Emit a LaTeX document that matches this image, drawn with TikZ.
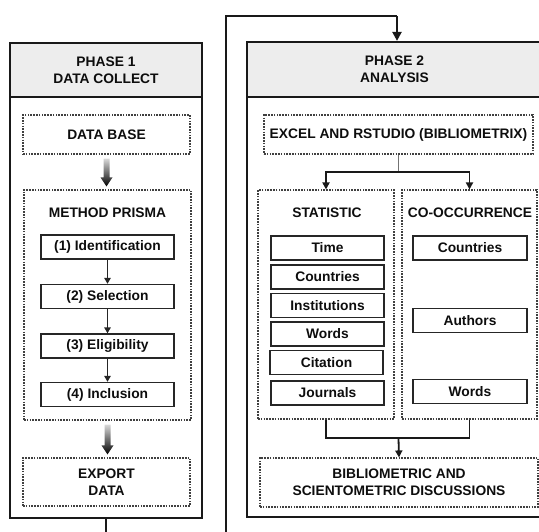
\documentclass[tikz,border=0pt]{standalone}
\usepackage{fontspec}
\setmainfont{Liberation Sans}
\usetikzlibrary{arrows.meta,calc}

% wide shaded arrow between two anchors (vertical, pointing down)
\newcommand\fatarrow[2]{%
  \shade[top color=black!15, bottom color=black]
    let \p1=(#1), \p2=(#2) in
    (\x1-3pt,\y1-4pt) -- (\x1+3pt,\y1-4pt) -- (\x1+3pt,\y2+12pt) --
    (\x1+6pt,\y2+12pt) -- (\x1,\y2+3pt) -- (\x1-6pt,\y2+12pt) --
    (\x1-3pt,\y2+12pt) -- cycle;}

\begin{document}
\begin{tikzpicture}[x=1pt,y=-1pt,
  every node/.style={font=\fontsize{13.8}{17}\selectfont\bfseries,
    text=black!95, align=center, inner sep=0pt},
  phasebox/.style={draw=black!90, line width=2.2pt},
  headbox/.style={draw=black!90, line width=2.2pt, fill=black!7},
  dashbox/.style={draw=black!75, line width=1.1pt, dash pattern=on 1.6pt off 1.2pt},
  itembox/.style={draw=black!85, line width=1.4pt, minimum width=113pt, minimum height=24pt},
  stepline/.style={draw=black!85, line width=1.4pt, -{Triangle[length=6pt,width=6.5pt]}},
  branch/.style={draw=black!90, line width=1.8pt},
  loopline/.style={draw=black!90, line width=2.2pt}
]
\clip (0,0) rectangle (539,531);

% ---------- Phase 1 ----------
\node[phasebox, minimum width=192pt, minimum height=475pt] (p1) at (106,280.5) {};
\node[headbox, minimum width=192pt, minimum height=54pt] (p1h) at (106,70) {PHASE 1\\DATA COLLECT};

\node[dashbox, minimum width=167pt, minimum height=39pt] (db) at (106.5,134.5) {DATA BASE};
\node[dashbox, minimum width=167pt, minimum height=230pt] (prisma) at (107.5,305) {};
\node (prismalbl) at (107.5,213) {METHOD PRISMA};

\node[itembox, minimum width=133pt] (s1) at (107.5,247)   {(1) Identification};
\node[itembox, minimum width=133pt] (s2) at (107.5,296.5) {(2) Selection};
\node[itembox, minimum width=133pt] (s3) at (107.5,346)   {(3) Eligibility};
\node[itembox, minimum width=133pt] (s4) at (107.5,394.5) {(4) Inclusion};
\draw[stepline] (s1) -- (s2);
\draw[stepline] (s2) -- (s3);
\draw[stepline] (s3) -- (s4);

\node[dashbox, minimum width=167pt, minimum height=48pt] (exp) at (106.5,482) {EXPORT\\DATA};

\fatarrow{db.south}{prisma.north}
\fatarrow{prisma.south}{exp.north}

% ---------- Phase 2 ----------
\node[phasebox, minimum width=295pt, minimum height=475pt] (p2) at (394.5,279.5) {};
\node[headbox, minimum width=295pt, minimum height=55pt] (p2h) at (394.5,69.5) {PHASE 2\\ANALYSIS};

\node[dashbox, minimum width=269pt, minimum height=39pt] (xl) at (398.5,134.5) {EXCEL AND RSTUDIO (BIBLIOMETRIX)};

\node[dashbox, minimum width=136pt, minimum height=229pt] (stat) at (326,304.5) {};
\node (statlbl) at (327,213) {STATISTIC};
\node[dashbox, minimum width=135pt, minimum height=229pt] (cooc) at (469.5,304.5) {};
\node (cooclbl) at (470,213) {CO-OCCURRENCE};

\node[itembox] (t1) at (327.5,248)   {Time};
\node[itembox] (t2) at (327.5,277)   {Countries};
\node[itembox] (t3) at (327.5,305.5) {Institutions};
\node[itembox] (t4) at (327.5,334)   {Words};
\node[itembox] (t5) at (326.5,362.5) {Citation};
\node[itembox] (t6) at (327.5,393)   {Journals};

\node[itembox, minimum width=114pt] (c1) at (470,248)   {Countries};
\node[itembox, minimum width=114pt] (c2) at (470,320.5) {Authors};
\node[itembox, minimum width=114pt] (c3) at (470,391.5) {Words};

\node[dashbox, minimum width=278pt, minimum height=49pt] (bib) at (399,482.5) {BIBLIOMETRIC AND\\SCIENTOMETRIC DISCUSSIONS};

% split below the software box
\coordinate (split) at (398.5,172);
\draw[draw=black!55, line width=1.6pt] (xl.south) -- (split);
\draw[branch, -{Triangle[length=7pt,width=7pt]}] (split) -| (stat.north);
\draw[branch, -{Triangle[length=7pt,width=7pt]}] (split) -| (cooc.north);

% merge into the discussion box
\coordinate (merge) at (398.5,438);
\draw[branch] (stat.south) |- (merge) -| (cooc.south);
\draw[branch, -{Triangle[length=7pt,width=7pt]}] (merge) -- (bib.north);

% ---------- link from phase 1 to phase 2 ----------
\coordinate (loopbot) at (106,545);
\coordinate (loopleft) at (226,16);
\coordinate (looptop) at (397,16);
\draw[loopline] (p1.south) -- (loopbot) -| (loopleft) -- (looptop);
\draw[loopline, -{Triangle[length=9pt,width=9pt]}] (looptop) -- (looptop |- p2.north);
\end{tikzpicture}
\end{document}
